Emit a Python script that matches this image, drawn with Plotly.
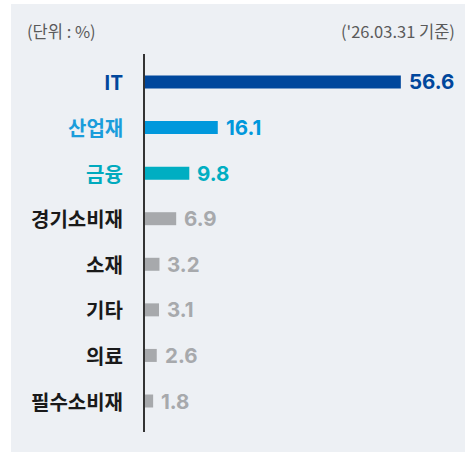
import plotly.graph_objects as go

categories = ["IT", "산업재", "금융", "경기소비재", "소재", "기타", "의료", "필수소비재"]
values = [56.6, 16.1, 9.8, 6.9, 3.2, 3.1, 2.6, 1.8]
bar_colors = ["#00479c", "#0098dc", "#00aec2", "#a7a9ac", "#a7a9ac", "#a7a9ac", "#a7a9ac", "#a7a9ac"]
label_colors = ["#00479c", "#1a9ddb", "#00aabe", "#1a1a1a", "#1a1a1a", "#1a1a1a", "#1a1a1a", "#1a1a1a"]
value_colors = ["#00479c", "#0098dc", "#00aec2", "#a7a9ac", "#a7a9ac", "#a7a9ac", "#a7a9ac", "#a7a9ac"]
unit_text = "(단위 : %)"
date_text = "('26.03.31 기준)"

W, H = 466, 453
ML, MR, MT, MB = 145, 0, 54, 21
PW = W - ML - MR
PH = H - MT - MB
px_per_unit = 4.52

def px_x(p):
    return (p - ML) / PW

def px_y(p):
    return 1 - (p - MT) / PH

fig = go.Figure()
fig.add_trace(go.Bar(
    x=values, y=categories, orientation="h",
    marker=dict(color=bar_colors, line=dict(width=0)),
    width=0.285, hoverinfo="skip",
))

KFONT = "Noto Sans CJK KR"
NFONT = "Inter, Noto Sans CJK KR"
annotations = []
for c, v, lc, vc in zip(categories, values, label_colors, value_colors):
    annotations.append(dict(
        x=px_x(124.5), xref="paper", y=c, yref="y", xanchor="right", yanchor="middle",
        text=f"<b>{c}</b>", showarrow=False,
        font=dict(family=KFONT, size=20, color=lc),
    ))
    annotations.append(dict(
        x=v, xref="x", y=c, yref="y", xanchor="left", yanchor="middle",
        xshift=6, text=f"<b>{v}</b>", showarrow=False,
        font=dict(family=NFONT, size=20.5, color=vc),
    ))
annotations.append(dict(
    x=px_x(25), xref="paper", y=px_y(31), yref="paper", xanchor="left", yanchor="middle",
    text=unit_text, showarrow=False, font=dict(family=KFONT, size=16.5, color="#5a5a5a"),
))
annotations.append(dict(
    x=px_x(457), xref="paper", y=px_y(31), yref="paper", xanchor="right", yanchor="middle",
    text=date_text, showarrow=False, font=dict(family=KFONT, size=16.5, color="#5a5a5a"),
))

fig.update_layout(
    width=W, height=H,
    margin=dict(l=ML, r=MR, t=MT, b=MB, pad=0),
    paper_bgcolor="#ffffff", plot_bgcolor="rgba(0,0,0,0)",
    showlegend=False,
    annotations=annotations,
    shapes=[dict(
        type="rect", xref="paper", yref="paper", layer="below",
        x0=px_x(11), x1=px_x(465), y0=px_y(452), y1=px_y(4),
        fillcolor="#edf0f4", line=dict(width=0),
    )],
    xaxis=dict(range=[0, PW / px_per_unit], visible=False, fixedrange=True),
    yaxis=dict(
        categoryorder="array", categoryarray=categories,
        range=[7.68, -0.614], showticklabels=False, ticks="",
        showgrid=False, zeroline=False, fixedrange=True,
        showline=True, linecolor="#333333", linewidth=1.5,
    ),
)

fig.write_html(
    "out.html",
    config={"displayModeBar": False},
    post_script="document.body.style.margin='0';document.body.style.overflow='hidden';",
)
